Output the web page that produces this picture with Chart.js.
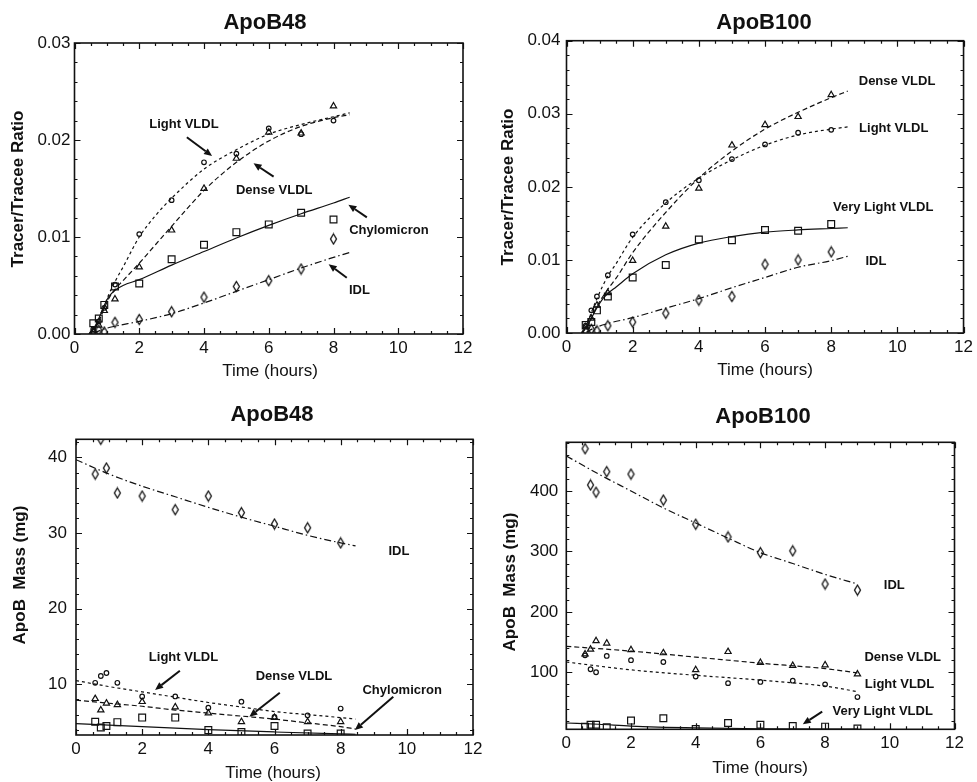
<!DOCTYPE html>
<html>
<head>
<meta charset="utf-8">
<script src="https://cdn.jsdelivr.net/npm/chart.js@4.4.1/dist/chart.umd.min.js"></script>
<style>
  html, body { margin: 0; padding: 0; background: #fff; }
  #wrap { position: relative; width: 977px; height: 782px; overflow: hidden; }
  #wrap canvas { position: absolute; }
</style>
</head>
<body>
<div id="wrap">
  <canvas id="p1" width="490" height="390" style="left:0;top:0;width:490px;height:390px"></canvas>
  <canvas id="p2" width="487" height="390" style="left:490px;top:0;width:487px;height:390px"></canvas>
  <canvas id="p3" width="490" height="392" style="left:0;top:390px;width:490px;height:392px"></canvas>
  <canvas id="p4" width="487" height="392" style="left:490px;top:390px;width:487px;height:392px"></canvas>
</div>
<script>
// --- data
const xTicks = [0, 2, 4, 6, 8, 10, 12];
const ratioTicks48 = [0, 0.01, 0.02, 0.03];
const ratioTicks100 = [0, 0.01, 0.02, 0.03, 0.04];
const massTicks48 = [10, 20, 30, 40];
const massTicks100 = [100, 200, 300, 400];

// sample times (hours)
const t48 = [0.58, 0.75, 0.92, 1.25, 2, 3, 4, 5, 6, 7, 8];
const t100 = [0.58, 0.75, 0.92, 1.25, 2, 3, 4, 5, 6, 7, 8, 9];

// ApoB48 tracer/tracee ratio
const r48Chylo = [0.0011, 0.0016, 0.0030, 0.0049, 0.0052, 0.0077, 0.0092, 0.0105, 0.0113, 0.0125, 0.0118];
const r48Light = [0.0005, 0.0013, 0.0027, 0.0051, 0.0103, 0.0138, 0.0177, 0.0186, 0.0212, 0.0206, 0.0220];
const r48Dense = [0.0003, 0.0009, 0.0024, 0.0036, 0.0069, 0.0107, 0.0150, 0.0181, 0.0208, 0.0207, 0.0235];
const r48Idl   = [0.0002, 0.0004, 0.0002, 0.0012, 0.0015, 0.0023, 0.0038, 0.0049, 0.0055, 0.0067, 0.0098];
// fitted curves
const f48ChyloT = [0.45, 0.6, 0.75, 0.9, 1.05, 1.25, 1.5, 2, 3, 4, 5, 6, 7, 8, 8.5];
const f48ChyloY = [0, 0.0006, 0.0016, 0.0028, 0.0038, 0.0045, 0.0050, 0.0056, 0.0071, 0.0085, 0.0099, 0.0112, 0.0124, 0.0135, 0.0141];
const f48VldlT  = [0.45, 0.6, 0.75, 0.9, 1.05, 1.25, 1.5, 2, 2.5, 3, 4, 5, 6, 7, 8, 8.5];
const f48LightY = [0, 0.0005, 0.0014, 0.0027, 0.0040, 0.0054, 0.0069, 0.0100, 0.0122, 0.0140, 0.0170, 0.0190, 0.0206, 0.0216, 0.0224, 0.0228];
const f48DenseY = [0, 0.0005, 0.0013, 0.0025, 0.0036, 0.0046, 0.0055, 0.0073, 0.0092, 0.0111, 0.0148, 0.0177, 0.0199, 0.0214, 0.0223, 0.0226];
const f48IdlT   = [0.6, 0.9, 1.25, 2, 3, 4, 5, 6, 7, 8, 8.5];
const f48IdlY   = [0.0001, 0.0005, 0.0008, 0.0013, 0.0021, 0.0032, 0.0044, 0.0056, 0.0068, 0.0079, 0.0084];

// ApoB100 tracer/tracee ratio
const r100Vl    = [0.0011, 0.0015, 0.0031, 0.0050, 0.0076, 0.0093, 0.0128, 0.0127, 0.0141, 0.0140, 0.0149];
const r100Light = [0.0010, 0.0031, 0.0050, 0.0079, 0.0135, 0.0179, 0.0209, 0.0238, 0.0258, 0.0274, 0.0278];
const r100Dense = [0.0008, 0.0020, 0.0038, 0.0055, 0.0099, 0.0146, 0.0198, 0.0257, 0.0285, 0.0296, 0.0326];
const r100Idl   = [0.0002, 0.0005, 0.0003, 0.0010, 0.0015, 0.0027, 0.0045, 0.0050, 0.0094, 0.0100, 0.0111];
const f100T      = [0.45, 0.6, 0.75, 0.9, 1.1, 1.25, 1.5, 2, 3, 4, 5, 6, 7, 8, 8.5];
const f100DenseY = [0, 0.0007, 0.0020, 0.0035, 0.0050, 0.0060, 0.0075, 0.0110, 0.0165, 0.0212, 0.0249, 0.0279, 0.0302, 0.0322, 0.0331];
const f100LightY = [0, 0.0010, 0.0028, 0.0045, 0.0065, 0.0078, 0.0095, 0.0131, 0.0178, 0.0212, 0.0237, 0.0257, 0.0271, 0.0279, 0.0282];
const f100VlY    = [0, 0.0008, 0.0020, 0.0033, 0.0047, 0.0054, 0.0063, 0.0081, 0.0107, 0.0123, 0.0132, 0.0138, 0.0141, 0.0143, 0.0144];
const f100IdlT   = [0.6, 0.8, 1.25, 2, 3, 4, 5, 6, 7, 8, 8.5];
const f100IdlY   = [0.0001, 0.0006, 0.0013, 0.0021, 0.0034, 0.0047, 0.0062, 0.0076, 0.0090, 0.0099, 0.0105];

// ApoB48 mass (mg)
const m48Idl   = [37.8, 42.4, 38.6, 35.3, 34.9, 33.1, 34.9, 32.7, 31.2, 30.7, 28.7];
const m48Light = [10.2, 11.1, 11.5, 10.2, 8.4, 8.4, 6.9, 7.7, 5.7, 5.9, 6.8];
const m48Dense = [8.1, 6.6, 7.5, 7.3, 7.7, 7.0, 6.2, 5.05, 5.6, 5.05, 5.05];
const m48Chylo = [5.05, 4.3, 4.5, 5.0, 5.6, 5.6, 3.95, 3.7, 4.5, 3.5, 3.5];
const fm48T      = [0, 1, 2, 3, 4, 5, 6, 7, 8, 8.45];
const fm48IdlY   = [39.7, 37.8, 36.2, 34.8, 33.4, 32.1, 30.9, 29.7, 28.7, 28.3];
const fm48LightY = [10.5, 9.7, 9.0, 8.3, 7.6, 7.0, 6.4, 6.0, 5.6, 5.4];
const fm48DenseY = [7.9, 7.5, 7.1, 6.6, 6.2, 5.8, 5.4, 4.9, 4.4, 4.1];
const fm48ChyloT = [0, 2, 4, 6, 8, 8.45];
const fm48ChyloY = [4.8, 4.4, 4.0, 3.7, 3.45, 3.4];

// ApoB100 mass (mg)
const m100Idl   = [470, 410, 398, 432, 428, 385, 345, 324, 298, 301, 246, 236];
const m100Dense = [130, 138, 152, 148, 137, 132, 104, 134, 116, 111, 112, 97];
const m100Light = [128, 105, 100, 127, 120, 117, 93, 82, 84, 86, 80, 59];
const m100Vl    = [10, 13, 13, 9, 20, 24, 6, 16, 13, 11, 10, 7];
const fm100IdlT   = [0, 1, 2, 3, 4, 5, 6, 7, 8, 9];
const fm100IdlY   = [458, 428, 400, 372, 347, 322, 298, 280, 262, 246];
const fm100T      = [0, 2, 4, 6, 8, 9];
const fm100DenseY = [143, 135, 125, 115, 106, 99];
const fm100LightY = [117, 104, 95, 87, 77, 68];
const fm100VlT    = [0, 1, 2, 4, 6, 9];
const fm100VlY    = [16, 14, 11, 8, 6.5, 5.8];

// --- helpers
const INK = "#111";
Chart.defaults.font.family = "'Liberation Sans', Arial, sans-serif";
Chart.defaults.color = INK;

const pts = (xs, ys) => xs.map((x, i) => ({ x, y: ys[i] }));

function diamondImg(w, h) {
  const c = document.createElement("canvas");
  c.width = w + 3; c.height = h + 3;
  const g = c.getContext("2d");
  g.strokeStyle = INK; g.lineWidth = 1.3;
  g.beginPath();
  g.moveTo(c.width / 2, 1.5);
  g.lineTo(c.width - 1.5, c.height / 2);
  g.lineTo(c.width / 2, c.height - 1.5);
  g.lineTo(1.5, c.height / 2);
  g.closePath();
  g.stroke();
  return c;
}
const DIAMOND = diamondImg(6, 10);

const MARK = {
  square:   { pointStyle: "rect", pointRadius: 4.8 },
  circle:   { pointStyle: "circle", pointRadius: 2.3 },
  triangle: { pointStyle: "triangle", pointRadius: 3.6 },
  diamond:  { pointStyle: DIAMOND, pointRadius: 5 }
};
const DASH = { solid: [], light: [3, 3], dense: [5, 3], idl: [7, 3, 1.5, 3] };

function scatterSet(data, mark) {
  return {
    data, showLine: false, borderColor: INK, backgroundColor: "rgba(255,255,255,0)",
    borderWidth: 1.2, pointBorderWidth: 1.2, ...MARK[mark], pointHoverRadius: 0
  };
}
function fitSet(data, dash) {
  return {
    data, showLine: true, pointRadius: 0, pointHoverRadius: 0, borderColor: INK,
    borderWidth: 1.2, borderDash: DASH[dash], cubicInterpolationMode: "monotone", fill: false
  };
}

// frame, inward ticks and the texts of each panel
const decorCfg = {};
const decor = {
  id: "decor",
  afterDraw(chart) {
    const o = decorCfg[chart.canvas.id];
    const { ctx, chartArea: a } = chart;
    const x = chart.scales.x, y = chart.scales.y;
    ctx.save();
    ctx.strokeStyle = INK;
    ctx.lineWidth = 1.6;
    ctx.strokeRect(a.left, a.top, a.right - a.left, a.bottom - a.top);

    const isMajor = (v, step) => Math.abs(v / step - Math.round(v / step)) < 1e-6;
    ctx.lineWidth = 1.2;
    ctx.beginPath();
    for (let k = Math.ceil(x.min / o.xMinor - 1e-9); k * o.xMinor <= x.max + 1e-9; k++) {
      const v = k * o.xMinor, px = Math.round(x.getPixelForValue(v)) + 0.5;
      const len = isMajor(v, o.xMajor) ? 6 : 3;
      ctx.moveTo(px, a.bottom); ctx.lineTo(px, a.bottom - len);
      ctx.moveTo(px, a.top); ctx.lineTo(px, a.top + len);
    }
    for (let k = Math.ceil(y.min / o.yMinor - 1e-9); k * o.yMinor <= y.max + 1e-9; k++) {
      const v = k * o.yMinor, py = Math.round(y.getPixelForValue(v)) + 0.5;
      const len = isMajor(v, o.yMajor) ? 6 : 3;
      ctx.moveTo(a.left, py); ctx.lineTo(a.left + len, py);
      ctx.moveTo(a.right, py); ctx.lineTo(a.right - len, py);
    }
    ctx.stroke();

    ctx.fillStyle = INK;
    ctx.textAlign = "center";
    ctx.textBaseline = "middle";
    ctx.font = "bold 22px 'Liberation Sans', Arial, sans-serif";
    ctx.fillText(o.title[0], o.title[1], o.title[2]);
    ctx.font = "17px 'Liberation Sans', Arial, sans-serif";
    ctx.fillText("Time (hours)", o.xTitle[0], o.xTitle[1]);
    ctx.save();
    ctx.translate(o.yTitle[1], o.yTitle[2]);
    ctx.rotate(-Math.PI / 2);
    ctx.font = "bold 17px 'Liberation Sans', Arial, sans-serif";
    ctx.fillText(o.yTitle[0], 0, 0);
    ctx.restore();

    ctx.font = "bold 13px 'Liberation Sans', Arial, sans-serif";
    o.labels.forEach(([txt, vx, vy]) => {
      ctx.fillText(txt, x.getPixelForValue(vx), y.getPixelForValue(vy));
    });
    ctx.lineWidth = 2;
    o.arrows.forEach(([x1, y1, x2, y2]) => {
      const ax = x.getPixelForValue(x1), ay = y.getPixelForValue(y1);
      const bx = x.getPixelForValue(x2), by = y.getPixelForValue(y2);
      const ang = Math.atan2(by - ay, bx - ax), hl = 8, hw = 3.5;
      const cx = bx - hl * Math.cos(ang), cy = by - hl * Math.sin(ang);
      ctx.beginPath(); ctx.moveTo(ax, ay); ctx.lineTo(cx, cy); ctx.stroke();
      ctx.beginPath();
      ctx.moveTo(bx, by);
      ctx.lineTo(cx + hw * Math.sin(ang), cy - hw * Math.cos(ang));
      ctx.lineTo(cx - hw * Math.sin(ang), cy + hw * Math.cos(ang));
      ctx.closePath(); ctx.fill();
    });
    ctx.restore();
  }
};

function makePanel(id, p) {
  const el = document.getElementById(id);
  const W = el.width, H = el.height;
  decorCfg[id] = p.decor;
  const tickFont = { size: 17 };
  new Chart(el, {
    type: "scatter",
    data: { datasets: p.datasets },
    options: {
      responsive: false,
      animation: false,
      events: [],
      layout: { padding: { left: 0, top: p.area[1], right: W - p.area[2], bottom: 0 } },
      plugins: { legend: { display: false }, tooltip: { enabled: false } },
      scales: {
        x: {
          type: "linear", min: 0, max: 12,
          afterBuildTicks: s => { s.ticks = xTicks.map(v => ({ value: v })); },
          afterFit: s => { s.height = H - p.area[3]; },
          grid: { display: false, drawTicks: false }, border: { display: false },
          ticks: { font: tickFont, padding: 4, maxRotation: 0, autoSkip: false, color: INK }
        },
        y: {
          type: "linear", min: p.yRange[0], max: p.yRange[1],
          afterBuildTicks: s => { s.ticks = p.yTicks.map(v => ({ value: v })); },
          afterFit: s => { s.width = p.area[0]; },
          grid: { display: false, drawTicks: false }, border: { display: false },
          ticks: { font: tickFont, padding: p.yPad, autoSkip: false, color: INK,
                   callback: v => p.yFmt(v) }
        }
      }
    },
    plugins: [decor]
  });
}

// --- panels
makePanel("p1", {
  area: [74.5, 43, 463, 334], yRange: [0, 0.03], yTicks: ratioTicks48, yPad: 4,
  yFmt: v => v.toFixed(2),
  datasets: [
    scatterSet(pts(t48, r48Chylo), "square"),
    scatterSet(pts(t48, r48Light), "circle"),
    scatterSet(pts(t48, r48Dense), "triangle"),
    scatterSet(pts(t48, r48Idl), "diamond"),
    fitSet(pts(f48ChyloT, f48ChyloY), "solid"),
    fitSet(pts(f48VldlT, f48LightY), "light"),
    fitSet(pts(f48VldlT, f48DenseY), "dense"),
    fitSet(pts(f48IdlT, f48IdlY), "idl")
  ],
  decor: {
    xMajor: 2, xMinor: 0.5, yMajor: 0.01, yMinor: 0.002,
    title: ["ApoB48", 265, 23], xTitle: [270, 371], yTitle: ["Tracer/Tracee Ratio", 18, 189],
    labels: [["Light VLDL", 3.38, 0.02165], ["Dense VLDL", 6.17, 0.01481],
             ["Chylomicron", 9.71, 0.01072], ["IDL", 8.80, 0.00454]],
    arrows: [[3.47, 0.02028, 4.25, 0.01835], [6.15, 0.01622, 5.53, 0.0176],
             [9.03, 0.01203, 8.46, 0.01333], [8.41, 0.0058, 7.85, 0.00719]]
  }
});

makePanel("p2", {
  area: [76.5, 40.7, 474, 333], yRange: [0, 0.04], yTicks: ratioTicks100, yPad: 6,
  yFmt: v => v.toFixed(2),
  datasets: [
    scatterSet(pts(t48, r100Vl), "square"),
    scatterSet(pts(t48, r100Light), "circle"),
    scatterSet(pts(t48, r100Dense), "triangle"),
    scatterSet(pts(t48, r100Idl), "diamond"),
    fitSet(pts(f100T, f100VlY), "solid"),
    fitSet(pts(f100T, f100LightY), "light"),
    fitSet(pts(f100T, f100DenseY), "dense"),
    fitSet(pts(f100IdlT, f100IdlY), "idl")
  ],
  decor: {
    xMajor: 2, xMinor: 0.5, yMajor: 0.01, yMinor: 0.002,
    title: ["ApoB100", 274, 23], xTitle: [275, 370], yTitle: ["Tracer/Tracee Ratio", 18, 187],
    labels: [["Dense VLDL", 9.99, 0.0344], ["Light VLDL", 9.89, 0.0280],
             ["Very Light VLDL", 9.57, 0.01715], ["IDL", 9.35, 0.00986]],
    arrows: []
  }
});

makePanel("p3", {
  area: [76, 49.3, 473, 345], yRange: [3.3, 42.4], yTicks: massTicks48, yPad: 9,
  yFmt: v => String(v),
  datasets: [
    scatterSet(pts(t48, m48Chylo), "square"),
    scatterSet(pts(t48, m48Light), "circle"),
    scatterSet(pts(t48, m48Dense), "triangle"),
    scatterSet(pts(t48, m48Idl), "diamond"),
    fitSet(pts(fm48ChyloT, fm48ChyloY), "solid"),
    fitSet(pts(fm48T, fm48LightY), "light"),
    fitSet(pts(fm48T, fm48DenseY), "dense"),
    fitSet(pts(fm48T, fm48IdlY), "idl")
  ],
  decor: {
    xMajor: 2, xMinor: 0.5, yMajor: 10, yMinor: 2,
    title: ["ApoB48", 272, 25], xTitle: [273, 383], yTitle: ["ApoB  Mass (mg)", 20, 185],
    labels: [["Light VLDL", 3.25, 13.58], ["Dense VLDL", 6.59, 11.0],
             ["Chylomicron", 9.86, 9.25], ["IDL", 9.76, 27.56]],
    arrows: [[3.14, 11.8, 2.39, 9.25], [6.16, 8.89, 5.24, 5.71], [9.59, 8.36, 8.43, 3.95]]
  }
});

makePanel("p4", {
  area: [76.3, 52.3, 464.5, 339.3], yRange: [5.6, 480.6], yTicks: massTicks100, yPad: 8,
  yFmt: v => String(v),
  datasets: [
    scatterSet(pts(t100, m100Vl), "square"),
    scatterSet(pts(t100, m100Light), "circle"),
    scatterSet(pts(t100, m100Dense), "triangle"),
    scatterSet(pts(t100, m100Idl), "diamond"),
    fitSet(pts(fm100VlT, fm100VlY), "solid"),
    fitSet(pts(fm100T, fm100LightY), "light"),
    fitSet(pts(fm100T, fm100DenseY), "dense"),
    fitSet(pts(fm100IdlT, fm100IdlY), "idl")
  ],
  decor: {
    xMajor: 2, xMinor: 0.5, yMajor: 100, yMinor: 20,
    title: ["ApoB100", 273, 27], xTitle: [270, 378], yTitle: ["ApoB  Mass (mg)", 20, 192],
    labels: [["IDL", 10.14, 244.5], ["Dense VLDL", 10.4, 124],
             ["Light VLDL", 10.3, 80.6], ["Very Light VLDL", 9.78, 36]],
    arrows: [[7.91, 34.8, 7.31, 13.9]]
  }
});
</script>
</body>
</html>
